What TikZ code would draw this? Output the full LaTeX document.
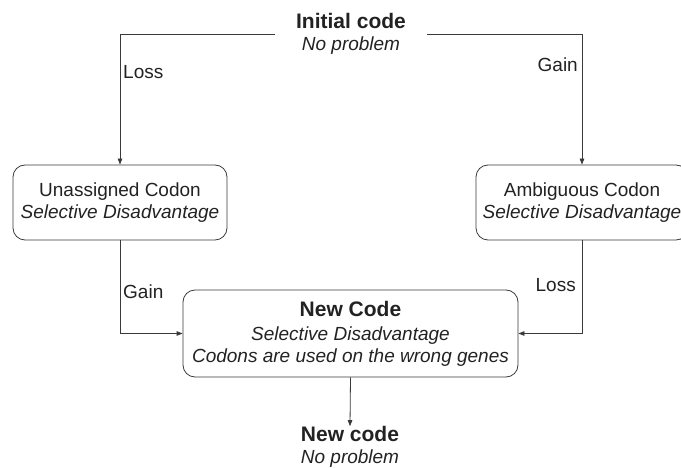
\documentclass[tikz,border=0pt]{standalone}
\usepackage{fontspec}
\setmainfont{Liberation Sans}
\usetikzlibrary{arrows.meta}
\definecolor{ink}{HTML}{222222}
\definecolor{linec}{HTML}{3A3A3A}
\newcommand{\headfont}{\fontsize{21}{22}\selectfont\bfseries}
\begin{document}
\begin{tikzpicture}[x=1pt,y=-1pt,
  every node/.style={text=ink, font=\fontsize{19}{22}\selectfont},
  codebox/.style={draw=linec, line width=0.8pt, rounded corners=12pt,
    align=center, inner sep=0pt},
  plain/.style={align=center, inner sep=0pt},
  conn/.style={draw=linec, line width=0.8pt, -{Triangle[length=6pt,width=4.5pt]}},
  edgelabel/.style={inner sep=0pt}]
\useasboundingbox (0,0) rectangle (681,468);

% start and end states
\node[plain, minimum width=152pt, minimum height=30pt] (init) at (351,34)
  {{\headfont Initial code}\\ \textit{No problem}};
\node[plain] (final) at (350,447)
  {{\headfont New code}\\ \textit{No problem}};

% intermediate states
\node[codebox, minimum width=214pt, minimum height=75pt] (unas) at (120,202.5)
  {Unassigned Codon\\ \textit{Selective Disadvantage}};
\node[codebox, minimum width=212pt, minimum height=75pt] (ambi) at (582,202.5)
  {Ambiguous Codon\\ \textit{Selective Disadvantage}};
\node[codebox, minimum width=335pt, minimum height=87pt] (newc) at (350.5,333.5)
  {{\headfont New Code}\\[2pt] \textit{Selective Disadvantage}\\
   \textit{Codons are used on the wrong genes}};

% transitions
\draw[conn] (init.west) -| (unas.north);
\draw[conn] (init.east) -| (ambi.north);
\draw[conn] (unas.south) |- (newc.west);
\draw[conn] (ambi.south) |- (newc.east);
\draw[conn] (newc.south) -- (final.north);

% transition labels
\node[edgelabel, anchor=west] (l1) at (123,72) {Loss};
\node[edgelabel, anchor=east] (l2) at (578,65) {Gain};
\node[edgelabel, anchor=west] (l3) at (123,292) {Gain};
\node[edgelabel, anchor=east] (l4) at (576,285) {Loss};
\end{tikzpicture}
\end{document}
